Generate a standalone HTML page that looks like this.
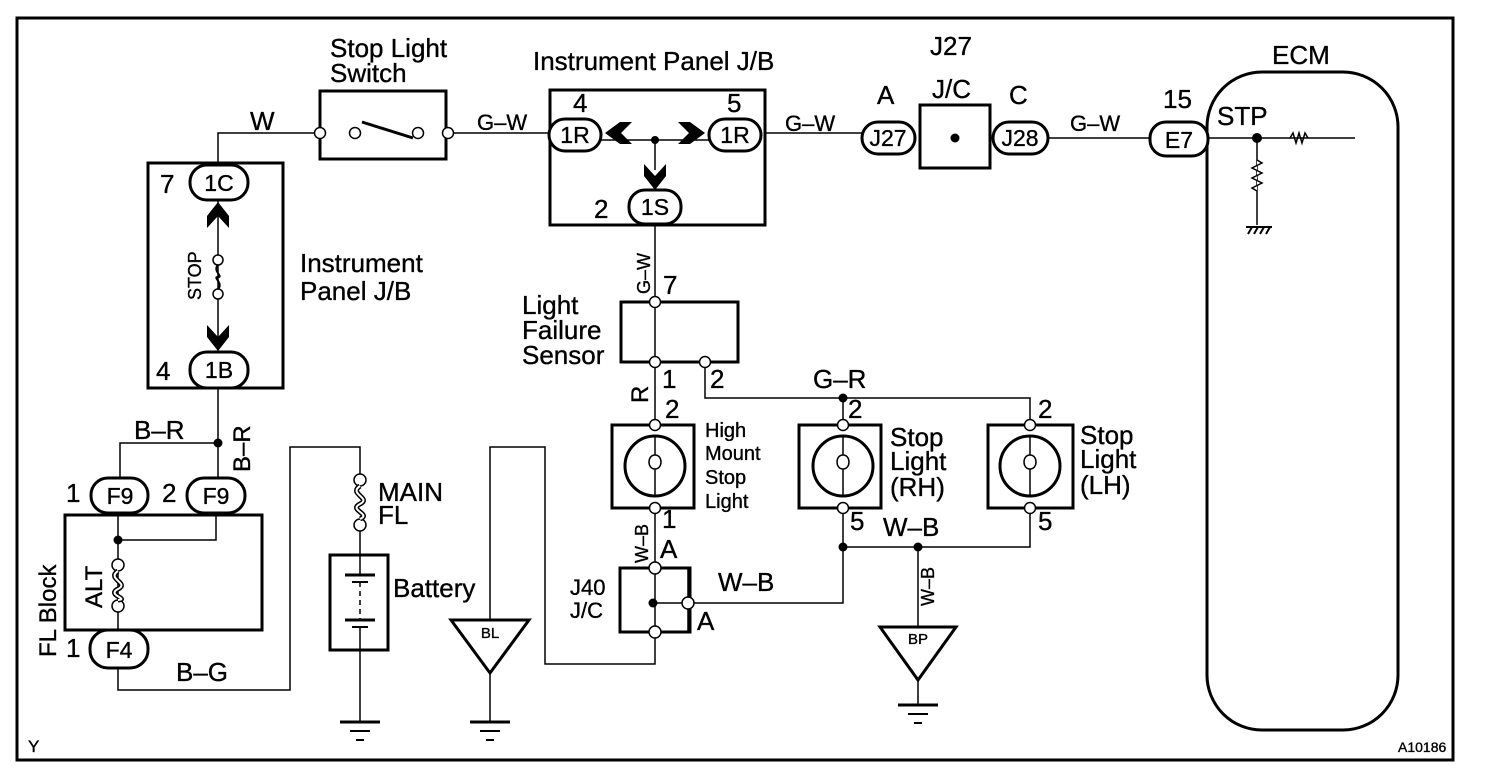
<!DOCTYPE html>
<html><head><meta charset="utf-8"><style>
html,body{margin:0;padding:0;background:#fff;}
svg{display:block;}
text{font-family:"Liberation Sans",sans-serif;fill:#000;stroke:#000;stroke-width:0.35;}
</style></head><body>
<svg width="1504" height="780" viewBox="0 0 1504 780" xmlns="http://www.w3.org/2000/svg">
<g fill="none" stroke="#000">
<rect x="17" y="18" width="1436" height="742" stroke-width="3"/>
<g stroke-width="1.5">
<path d="M218 165 V133 H320"/>
<path d="M448 133 H550"/>
<path d="M765 133 H862"/>
<path d="M1048 138 H1150"/>
<path d="M1208 138 H1355"/>
<path d="M1257 138 V225"/>
<path d="M655 225 V302 M655 302 V362 M655 362 V425"/>
<path d="M705 362 V398 H1030 V425"/>
<path d="M843 398 V425"/>
<path d="M655 508 V568 M655 568 V632 M655 632 V664 H545 V447 H490 V620"/>
<path d="M843 508 V547 H1030 V508"/>
<path d="M918 547 V627"/>
<path d="M843 547 V603 H688"/>
<path d="M653 603 H688 M688 568 H655 M688 632 H655 M688 568 V632"/>
<path d="M218 388 V478 M218 443 H120 V478"/>
<path d="M118 512 V630 M118 540 H216 V512"/>
<path d="M118 668 V690 H290 V447 H360 V480"/>
<path d="M360 525 V555 M360 650 V722"/>
<path d="M490 673 V722"/>
<path d="M918 680 V705"/>
<path d="M218 200 V352"/>
<path d="M655 140 V170 M600 140 H710"/>
</g>
<g stroke-width="3">
<rect x="320" y="91" width="126" height="68"/>
<rect x="550" y="90" width="215" height="135"/>
<rect x="920" y="105" width="70" height="63"/>
<rect x="148" y="163" width="135" height="225"/>
<rect x="65" y="515" width="197" height="115"/>
<rect x="330" y="555" width="58" height="95"/>
<rect x="621" y="302" width="117" height="60"/>
<rect x="612" y="425" width="82" height="83"/>
<rect x="799" y="425" width="82" height="83"/>
<rect x="988" y="425" width="85" height="83"/>
<rect x="620" y="568" width="70" height="64"/>
<rect x="1207" y="72" width="191" height="658" rx="55"/>
<path d="M451 620 H529 L490 673 Z"/>
<path d="M880 627 H956 L918 680 Z"/>
<circle cx="655" cy="466" r="30"/>
<circle cx="843" cy="466" r="30"/>
<circle cx="1030" cy="466" r="30"/>
</g>
<path d="M362 122 L413 138" stroke-width="3"/>
<g stroke-width="1.5">
<path d="M655 436 V455 c-8 0 -8 14 0 14 c8 0 8 -14 0 -14 M655 469 V496"/>
<path d="M843 436 V455 c-8 0 -8 14 0 14 c8 0 8 -14 0 -14 M843 469 V496"/>
<path d="M1030 436 V455 c-8 0 -8 14 0 14 c8 0 8 -14 0 -14 M1030 469 V496"/>
</g>
<g stroke-width="3" fill="#fff">
<rect x="549" y="119" width="52" height="32" rx="16"/>
<rect x="709" y="119" width="52" height="32" rx="16"/>
<rect x="629" y="190" width="52" height="34" rx="16"/>
<rect x="862" y="122" width="53" height="32" rx="16"/>
<rect x="993" y="122" width="55" height="32" rx="16"/>
<rect x="1150" y="122" width="58" height="34" rx="16"/>
<rect x="190" y="165" width="58" height="35" rx="17"/>
<rect x="190" y="352" width="58" height="36" rx="17"/>
<rect x="91" y="478" width="57" height="35" rx="17"/>
<rect x="187" y="478" width="58" height="35" rx="17"/>
<rect x="90" y="630" width="58" height="38" rx="18"/>
</g>
<g stroke-width="1.5" fill="#fff">
<circle cx="320" cy="133" r="5.5"/><circle cx="355" cy="133" r="5.5"/><circle cx="418" cy="133" r="5.5"/><circle cx="448" cy="133" r="5.5"/>
<circle cx="218" cy="260" r="5"/><circle cx="218" cy="294" r="5"/>
<circle cx="655" cy="302" r="5.5"/><circle cx="655" cy="362" r="5.5"/><circle cx="705" cy="362" r="5.5"/>
<circle cx="655" cy="425" r="5.5"/><circle cx="655" cy="508" r="5.5"/>
<circle cx="843" cy="425" r="5.5"/><circle cx="843" cy="508" r="5.5"/>
<circle cx="1030" cy="425" r="5.5"/><circle cx="1030" cy="508" r="5.5"/>
<circle cx="655" cy="568" r="6"/><circle cx="655" cy="632" r="6"/><circle cx="688" cy="603" r="6"/>
<circle cx="118" cy="565" r="6"/><circle cx="118" cy="606" r="6"/>
<circle cx="360" cy="480" r="6"/><circle cx="360" cy="525" r="6"/>
</g>
<path d="M218 265 c-6 6 6 12 0 12 c-6 0 6 6 0 12" stroke-width="2"/>
<path d="M118 571 c-12 8 12 12 0 18 c-12 6 12 10 0 11" stroke-width="5"/>
<path d="M118 571 c-12 8 12 12 0 18 c-12 6 12 10 0 11" stroke-width="2" stroke="#fff"/>
<path d="M360 486 c-12 8 12 12 0 18 c-12 6 12 10 0 15" stroke-width="5"/>
<path d="M360 486 c-12 8 12 12 0 18 c-12 6 12 10 0 15" stroke-width="2" stroke="#fff"/>
<g stroke-width="3"><path d="M345 575 H375 M345 620 H375"/></g>
<g stroke-width="2"><path d="M352 582 H368 M352 627 H368"/></g>
<path d="M360 555 V575 M360 627 V650" stroke-width="1.5"/>
<path d="M360 582 V620" stroke-width="1.5" stroke-dasharray="5 4"/>
<path d="M1290 138 l3 -5 l3 10 l3 -10 l3 10 l3 -10 l3 5" stroke-width="1.5" fill="none"/>
<path d="M1257 160 l5 3 l-10 5 l10 5 l-10 5 l10 5 l-10 5 l5 3" stroke-width="1.5" fill="#fff"/>
<path d="M1246 227 H1272 M1248 234 l4 -7 M1254 234 l4 -7 M1260 234 l4 -7 M1266 234 l4 -7" stroke-width="2"/>
<g stroke-width="3"><path d="M340 722 H380 M470 722 H510 M898 705 H938"/></g>
<g stroke-width="2"><path d="M350 731 H370 M356 740 H364 M480 731 H500 M486 740 H494 M908 714 H928 M914 723 H922"/></g>
</g>
<g fill="#000">
<circle cx="655" cy="140" r="4"/><circle cx="955" cy="138" r="4.5"/><circle cx="1257" cy="138" r="5"/>
<circle cx="218" cy="443" r="4.5"/><circle cx="118" cy="540" r="4.5"/>
<circle cx="843" cy="398" r="4.5"/><circle cx="843" cy="547" r="4.5"/><circle cx="918" cy="547" r="4.5"/>
<circle cx="653" cy="603" r="4.5"/>
<path d="M605 133 L620 122 L632 122 L621 133 L632 144 L620 144 Z"/>
<path d="M705 133 L690 122 L678 122 L689 133 L678 144 L690 144 Z"/>
<path d="M655 190 L644 176 L644 164 L655 176 L666 164 L666 176 Z"/>
<path d="M218 202 L207 216 L207 228 L218 216 L229 228 L229 216 Z"/>
<path d="M218 351 L207 337 L207 325 L218 337 L229 325 L229 337 Z"/>
</g>
<g font-size="26">
<text x="330" y="57">Stop Light</text><text x="330" y="82">Switch</text>
<text x="533" y="70">Instrument Panel J/B</text>
<text x="930" y="55">J27</text><text x="932" y="98">J/C</text>
<text x="877" y="104">A</text><text x="1009" y="104">C</text><text x="1163" y="108">15</text>
<text x="1272" y="64">ECM</text><text x="1217" y="125">STP</text>
<text x="250" y="130">W</text>
<text x="573" y="112">4</text><text x="727" y="112">5</text><text x="594" y="218">2</text>
<text x="160" y="193">7</text><text x="156" y="380">4</text>
<text x="300" y="272">Instrument</text><text x="300" y="300">Panel J/B</text>
<text x="522" y="314">Light</text><text x="522" y="339">Failure</text><text x="522" y="364">Sensor</text>
<text x="663" y="294">7</text><text x="662" y="388">1</text><text x="710" y="388">2</text>
<text x="665" y="418">2</text><text x="848" y="418">2</text><text x="1038" y="418">2</text>
<text x="662" y="528">1</text><text x="850" y="530">5</text><text x="1038" y="530">5</text>
<text x="890" y="446">Stop</text><text x="890" y="470">Light</text><text x="890" y="496">(RH)</text>
<text x="1080" y="444">Stop</text><text x="1080" y="468">Light</text><text x="1080" y="494">(LH)</text>
<text x="813" y="388">G–R</text><text x="883" y="536">W–B</text>
<text x="718" y="591">W–B</text>
<text x="660" y="558">A</text><text x="697" y="630">A</text>
<text x="134" y="439">B–R</text>
<text x="176" y="681">B–G</text>
<text x="378" y="501">MAIN</text><text x="378" y="524">FL</text>
<text x="393" y="597">Battery</text>
<text x="66" y="502">1</text><text x="162" y="502">2</text><text x="66" y="657">1</text>
</g>
<g font-size="22">
<text x="570" y="595">J40</text><text x="570" y="618">J/C</text>
</g>
<g font-size="20">
<text x="705" y="437">High</text><text x="705" y="460">Mount</text><text x="705" y="484">Stop</text><text x="705" y="508">Light</text>
</g>
<g font-size="22">
<text x="477" y="130">G–W</text><text x="785" y="131">G–W</text><text x="1070" y="131">G–W</text>
</g>
<g font-size="23" text-anchor="middle">
<text x="575" y="143">1R</text><text x="735" y="143">1R</text><text x="655" y="215">1S</text>
<text x="888" y="146">J27</text><text x="1020" y="146">J28</text><text x="1179" y="148">E7</text>
<text x="219" y="191">1C</text><text x="219" y="378">1B</text>
<text x="120" y="504">F9</text><text x="216" y="504">F9</text><text x="119" y="658">F4</text>
</g>
<text x="490" y="638" font-size="15" text-anchor="middle">BL</text>
<text x="918" y="644" font-size="15" text-anchor="middle">BP</text>
<g font-size="18">
<text transform="translate(201,300) rotate(-90)">STOP</text>
<text transform="translate(650,294) rotate(-90)">G–W</text>
<text transform="translate(648,563) rotate(-90)">W–B</text>
<text transform="translate(934,606) rotate(-90)">W–B</text>
</g>
<g font-size="24">
<text transform="translate(250,472) rotate(-90)">B–R</text>
<text transform="translate(648,403) rotate(-90)">R</text>
<text transform="translate(56,657) rotate(-90)">FL Block</text>
<text transform="translate(102,608) rotate(-90)">ALT</text>
</g>
<text x="28" y="752" font-size="17">Y</text>
<text x="1398" y="752" font-size="14">A10186</text>
</svg>
</body></html>
